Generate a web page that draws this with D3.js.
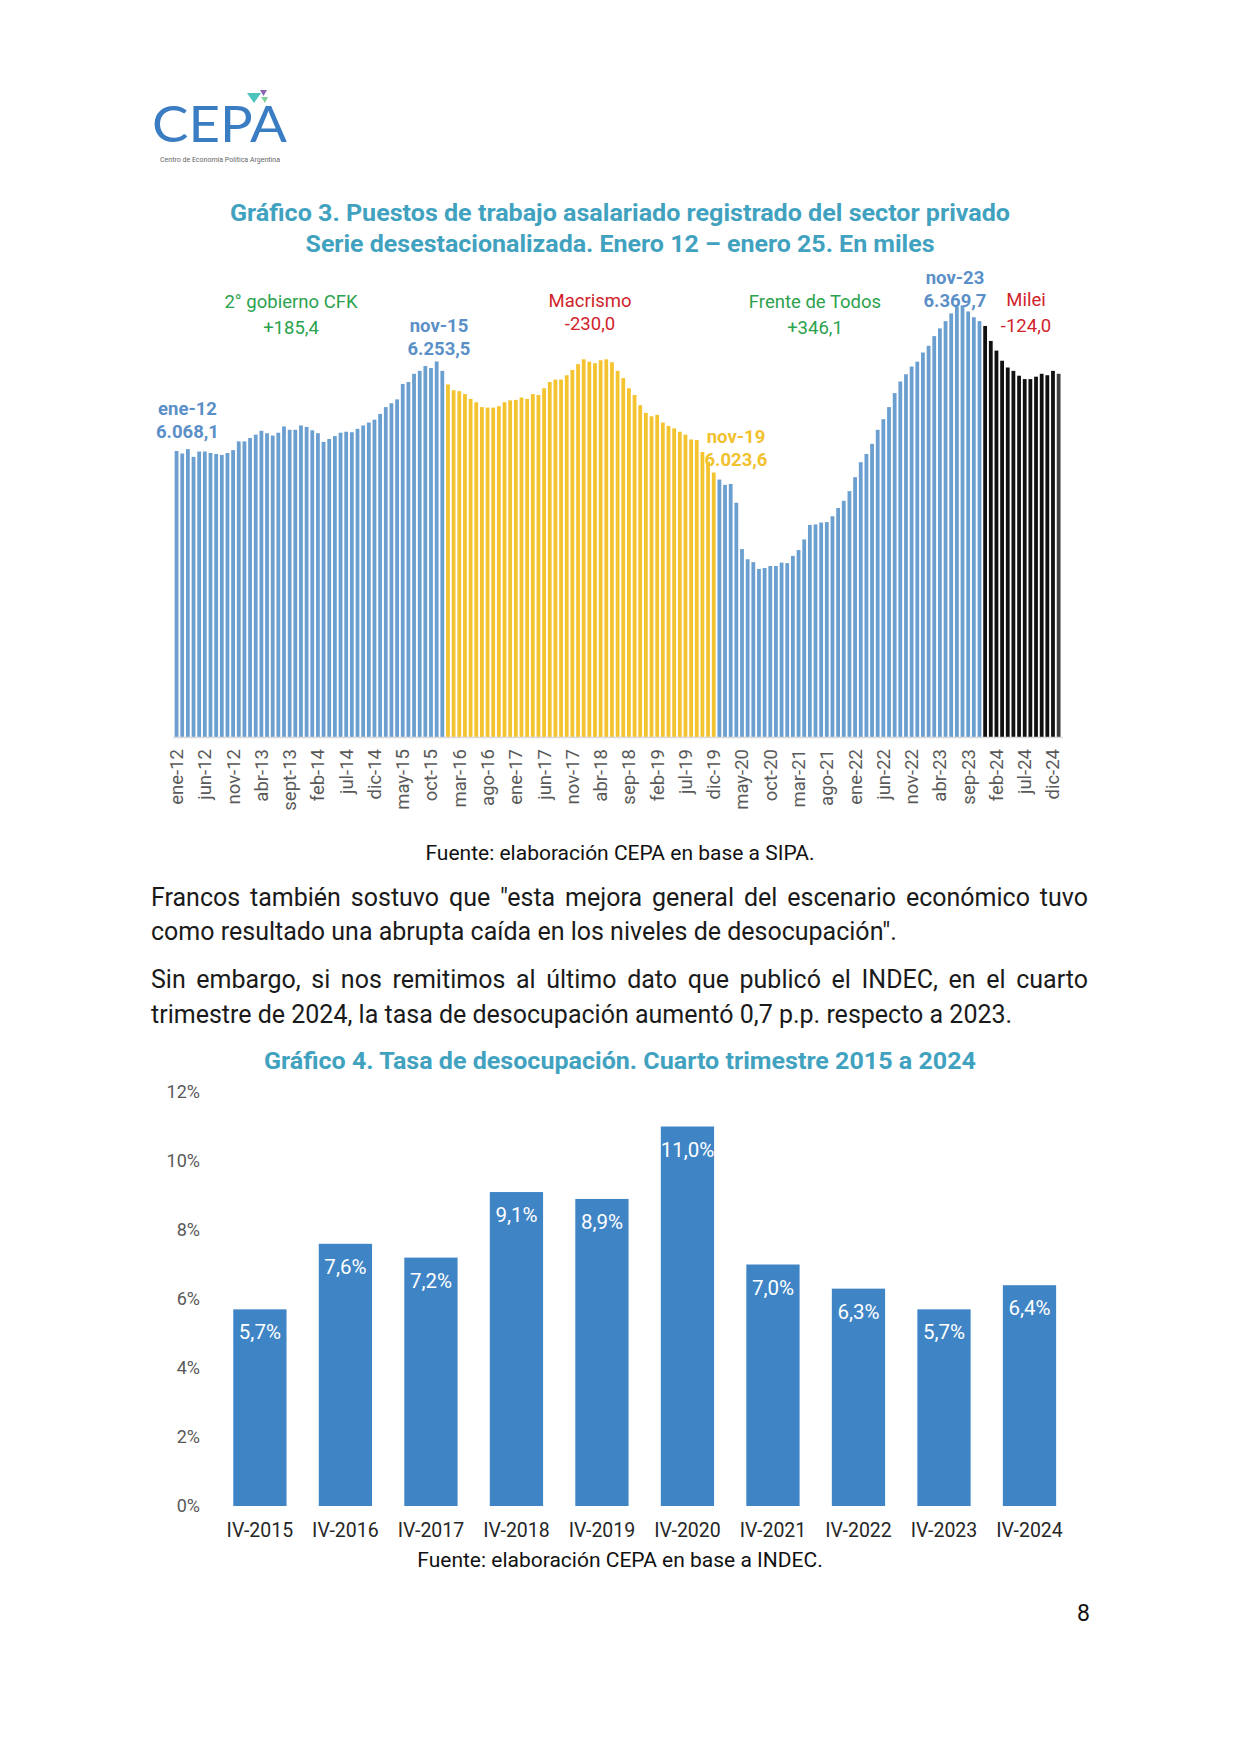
<!DOCTYPE html>
<html lang="es">
<head>
<meta charset="utf-8">
<title>CEPA - Gráficos 3 y 4</title>
<script src="https://cdn.jsdelivr.net/npm/d3@7"></script>
<style>
  body { margin: 0; background: #fff; }
  svg { display: block; font-family: Roboto, "Noto Sans", sans-serif; }
</style>
</head>
<body>
<svg id="page" width="1241" height="1755"></svg>
<script>
// Gráfico 3: puestos de trabajo asalariado registrado, sector privado (miles, desestacionalizado)
// una fila por año, ene-12 a ene-25
const empleo = [
  6068.1, 6063, 6072, 6056, 6067, 6067, 6064, 6062, 6060, 6064, 6070, 6088,
  6088, 6095, 6102, 6110, 6105, 6100, 6106, 6119, 6112, 6112, 6121, 6118,
  6111, 6105, 6087, 6093, 6099, 6106, 6108, 6107, 6114, 6121, 6127, 6133,
  6145, 6159, 6167, 6175, 6207, 6211, 6228, 6234, 6244, 6240, 6253.5, 6234,
  6206, 6194, 6192, 6186, 6176, 6169, 6159, 6158, 6158, 6161, 6169, 6173,
  6174, 6179, 6176, 6186, 6184, 6198, 6211, 6216, 6216, 6225, 6236, 6248,
  6258, 6253, 6250, 6256, 6258, 6252, 6234, 6219, 6198, 6184, 6163, 6147,
  6140, 6143, 6127, 6120, 6115, 6108, 6102, 6092, 6091, 6066, 6046, 6023.6,
  6009, 5998, 6000, 5961, 5865, 5844, 5838, 5824, 5826, 5830, 5830, 5837,
  5836, 5851, 5863, 5885, 5915, 5916, 5920, 5921, 5933, 5950, 5965, 5985,
  6014, 6045, 6062, 6083, 6112, 6134, 6159, 6188, 6212, 6227, 6243, 6253,
  6272, 6286, 6306, 6322, 6337, 6353, 6367, 6369.7, 6357, 6345, 6337, 6327,
  6296, 6276, 6255, 6241, 6234, 6224, 6217, 6217, 6222, 6228, 6225, 6234,
  6228
];
const meses = ["ene", "feb", "mar", "abr", "may", "jun", "jul", "ago", "sep", "oct", "nov", "dic"];
// etiquetas del eje, una cada 5 meses
const tickLabels = [
  "ene-12", "jun-12", "nov-12", "abr-13", "sept-13", "feb-14", "jul-14", "dic-14",
  "may-15", "oct-15", "mar-16", "ago-16", "ene-17", "jun-17", "nov-17", "abr-18",
  "sep-18", "feb-19", "jul-19", "dic-19", "may-20", "oct-20", "mar-21", "ago-21",
  "ene-22", "jun-22", "nov-22", "abr-23", "sep-23", "feb-24", "jul-24", "dic-24"
];
// primer mes de cada tramo de color (CFK, Macri, FdT, Milei)
const inicioTramo = [0, 48, 96, 143];

// Gráfico 4: tasa de desocupación, cuarto trimestre
const trimestres = ["IV-2015", "IV-2016", "IV-2017", "IV-2018", "IV-2019", "IV-2020", "IV-2021", "IV-2022", "IV-2023", "IV-2024"];
const desocupacion = [5.7, 7.6, 7.2, 9.1, 8.9, 11.0, 7.0, 6.3, 5.7, 6.4];
const ticksDesoc = [0, 2, 4, 6, 8, 10, 12];

const svg = d3.select("#page");
svg.append("rect").attr("width", 1241).attr("height", 1755).attr("fill", "#fff");

// ---- logo
const logo = svg.append("g");
logo.append("text")
  .attr("x", 152).attr("y", 142)
  .attr("font-family", "Lato, sans-serif").attr("font-weight", 400)
  .attr("font-size", 50).attr("fill", "#3a7dc3")
  .attr("textLength", 135).attr("lengthAdjust", "spacingAndGlyphs")
  .text("CEPA");
logo.append("text")
  .attr("x", 160).attr("y", 162)
  .attr("font-size", 6.5).attr("fill", "#666")
  .attr("textLength", 120).attr("lengthAdjust", "spacingAndGlyphs")
  .text("Centro de Economía Política Argentina");
logo.append("path").attr("d", "M247,93 L261,93 L254,103 Z").attr("fill", "#4ec2bd");
logo.append("path").attr("d", "M260,90 L267,90 L263.5,96 Z").attr("fill", "#8a66b5");
logo.append("path").attr("d", "M261,97 L268,97 L265,103 Z").attr("fill", "#7fcf9a");

// ---- títulos
const teal = "#41a2bf";
function titulo(txt, y, ancho) {
  svg.append("text")
    .attr("x", 620).attr("y", y)
    .attr("text-anchor", "middle")
    .attr("font-weight", 700).attr("font-size", 24).attr("fill", teal)
    .attr("textLength", ancho).attr("lengthAdjust", "spacingAndGlyphs")
    .text(txt);
}
titulo("Gráfico 3. Puestos de trabajo asalariado registrado del sector privado", 221, 780);
titulo("Serie desestacionalizada. Enero 12 – enero 25. En miles", 252, 629);

// ---- gráfico 3
const idx = d3.range(empleo.length);

const x3 = d3.scaleBand().domain(idx).range([172.8, 1062.4]).paddingInner(0.33).paddingOuter(0.33);
const y3 = d3.scaleLinear().domain([5476, 6400]).range([737, 290.7]);

const colorTramo = ["#6b9fd0", "#f4c430", "#6b9fd0", "#111111"];
function colorBarra(i) {
  if (i === empleo.length - 1) return "#404040";
  let t = 0;
  inicioTramo.forEach((s, k) => { if (i >= s) t = k; });
  return colorTramo[t];
}

const g3 = svg.append("g");
g3.selectAll("rect")
  .data(idx)
  .enter()
  .append("rect")
  .attr("x", (i) => x3(i))
  .attr("y", (i) => y3(empleo[i]))
  .attr("width", x3.bandwidth())
  .attr("height", (i) => y3.range()[0] - y3(empleo[i]))
  .attr("fill", (i) => colorBarra(i));

const tickIdx = idx.filter((i) => i % 5 === 0 && i < empleo.length - 1);
const ax3 = g3.append("g")
  .attr("transform", "translate(0,737)")
  .call(d3.axisBottom(x3).tickValues(tickIdx).tickSize(0).tickFormat((i) => tickLabels[i / 5]));
ax3.select(".domain").attr("stroke", "#d9d9d9").attr("stroke-width", 1.5);
ax3.selectAll("text")
  .attr("transform", "rotate(-90)")
  .attr("text-anchor", "end")
  .attr("x", -12).attr("y", 0).attr("dy", "0.35em")
  .attr("font-family", "Roboto, sans-serif")
  .attr("font-size", 18.5).attr("fill", "#595959");

// anotaciones del gráfico 3
function nota(lineas, x, y, salto, color, peso, tam) {
  lineas.forEach((l, k) => {
    svg.append("text")
      .attr("x", x).attr("y", y + k * salto)
      .attr("text-anchor", "middle")
      .attr("font-weight", peso).attr("font-size", tam).attr("fill", color)
      .text(l);
  });
}
const verde = "#2ba24c", rojo = "#d0232b", azul = "#5b8fc7", amarillo = "#f2c12e";
nota(["2° gobierno CFK", "+185,4"], 291, 308, 26, verde, 400, 18.5);
nota(["Macrismo", "-230,0"], 590, 307, 23, rojo, 400, 18.5);
nota(["Frente de Todos", "+346,1"], 815, 308, 26, verde, 400, 18.5);
nota(["Milei", "-124,0"], 1026, 306, 26, rojo, 400, 18.5);
nota(["ene-12", "6.068,1"], 187.5, 415, 23, azul, 700, 18.5);
nota(["nov-15", "6.253,5"], 439, 332, 23, azul, 700, 18.5);
nota(["nov-19", "6.023,6"], 736, 443, 23, amarillo, 700, 18.5);
nota(["nov-23", "6.369,7"], 955, 284, 23, azul, 700, 18.5);

svg.append("text")
  .attr("x", 620).attr("y", 860)
  .attr("text-anchor", "middle").attr("font-size", 21).attr("fill", "#111")
  .text("Fuente: elaboración CEPA en base a SIPA.");

// ---- párrafos
function linea(txt, y, justificar) {
  const x0 = 151, x1 = 1088;
  const t = svg.append("text").attr("y", y).attr("font-size", 25).attr("fill", "#1a1a1a");
  if (!justificar) {
    t.attr("x", x0).text(txt);
    return;
  }
  const palabras = txt.split(" ");
  const spans = palabras.map((w) => t.append("tspan").text(w));
  const anchos = spans.map((s) => s.node().getComputedTextLength());
  const hueco = (x1 - x0 - d3.sum(anchos)) / (palabras.length - 1);
  let x = x0;
  spans.forEach((s, k) => { s.attr("x", x); x += anchos[k] + hueco; });
}
linea("Francos también sostuvo que \"esta mejora general del escenario económico tuvo", 906, true);
linea("como resultado una abrupta caída en los niveles de desocupación\".", 940, false);
linea("Sin embargo, si nos remitimos al último dato que publicó el INDEC, en el cuarto", 988, true);
linea("trimestre de 2024, la tasa de desocupación aumentó 0,7 p.p. respecto a 2023.", 1023, false);

// ---- gráfico 4
titulo("Gráfico 4. Tasa de desocupación. Cuarto trimestre 2015 a 2024", 1069, 712);

const x4 = d3.scaleBand().domain(trimestres).range([190, 1099.4]).paddingInner(0.377).paddingOuter(0.506);
const y4 = d3.scaleLinear().domain([0, 12]).range([1506, 1092]);

const g4 = svg.append("g");
g4.selectAll("rect")
  .data(trimestres)
  .enter()
  .append("rect")
  .attr("x", (d) => x4(d))
  .attr("y", (d, i) => y4(desocupacion[i]))
  .attr("width", x4.bandwidth())
  .attr("height", (d, i) => y4(0) - y4(desocupacion[i]))
  .attr("fill", "#3f85c6");

g4.selectAll(".valor")
  .data(trimestres)
  .enter()
  .append("text")
  .attr("class", "valor")
  .attr("x", (d) => x4(d) + x4.bandwidth() / 2)
  .attr("y", (d, i) => y4(desocupacion[i]) + 30)
  .attr("text-anchor", "middle")
  .attr("font-size", 20.5).attr("fill", "#fff")
  .text((d, i) => desocupacion[i].toFixed(1).replace(".", ",") + "%");

const ay4 = g4.append("g")
  .attr("transform", "translate(207,0)")
  .call(d3.axisLeft(y4).tickValues(ticksDesoc).tickSize(0).tickPadding(7).tickFormat((d) => d + "%"));
ay4.select(".domain").remove();
ay4.selectAll("text").attr("font-family", "Roboto, sans-serif").attr("font-size", 18).attr("fill", "#595959");

const ax4 = g4.append("g")
  .attr("transform", "translate(0,1506)")
  .call(d3.axisBottom(x4).tickSize(0).tickPadding(17));
ax4.select(".domain").remove();
ax4.selectAll("text").attr("font-family", "Roboto, sans-serif").attr("font-size", 19.5).attr("fill", "#262626");

svg.append("text")
  .attr("x", 620).attr("y", 1567)
  .attr("text-anchor", "middle").attr("font-size", 21).attr("fill", "#111")
  .text("Fuente: elaboración CEPA en base a INDEC.");

svg.append("text")
  .attr("x", 1090).attr("y", 1621)
  .attr("text-anchor", "end").attr("font-size", 23).attr("fill", "#111")
  .text("8");
</script>
</body>
</html>
